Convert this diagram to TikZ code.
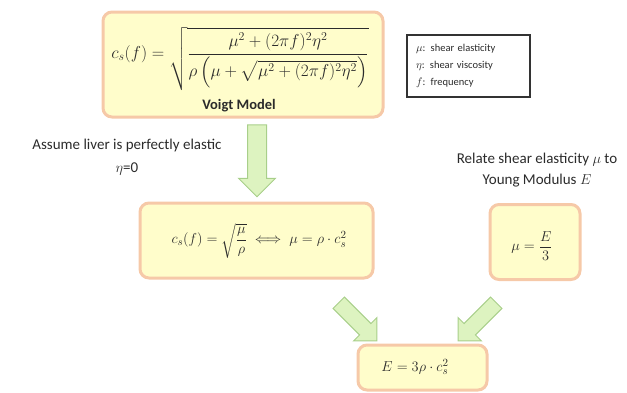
\documentclass[tikz,border=0pt]{standalone}
\usepackage{fontspec}
\setmainfont{Carlito}
\usepackage{amsmath}
\usetikzlibrary{shapes.arrows}
\definecolor{ink}{HTML}{2B2B2B}
\definecolor{peach}{HTML}{F6C9A8}
\definecolor{cream}{HTML}{FFFDCB}
\definecolor{leaf}{HTML}{DDF3C0}
\definecolor{leafline}{HTML}{A8CF8A}
\tikzset{
  font=\fontsize{11}{13}\selectfont,
  %
  eqbox/.style={draw=peach, line width=3pt, fill=cream, rounded corners=9pt,
                inner sep=0pt},
  keybox/.style={draw=black!80, line width=1.2pt, fill=white, inner xsep=9pt,
                 text width=105pt, align=left, minimum height=62pt,
                 font=\fontsize{10.5}{17}\selectfont, text=ink},
  %
  bigarrow/.style={single arrow, draw=leafline, line width=1pt, fill=leaf,
                   inner xsep=0pt, single arrow head indent=0pt},
  %
  eq/.style={font=\fontsize{15}{17}\selectfont, text=ink, inner sep=0pt},
  note/.style={font=\fontsize{15}{23}\selectfont, text=ink, align=center,
               inner sep=0pt},
}

\begin{document}
\begin{tikzpicture}[x=1pt, y=-1pt]
\useasboundingbox (0,0) rectangle (627,392);

% ------------------------------------------------------------- voigt model
\node[eqbox, minimum width=280pt, minimum height=105pt] (voigt) at (243,64.5) {};
\node[eq, font=\fontsize{16.5}{18}\selectfont] (voigteq) at (240,59)
  {$c_s(f) = \sqrt{\dfrac{\mu^2+(2\pi f)^2\eta^2}
   {\rho\left(\mu+\sqrt{\mu^2+(2\pi f)^2\eta^2}\right)}}$};
\node[note, font=\fontsize{14.5}{16}\selectfont\bfseries] (voigtlbl) at (239,106) {Voigt Model};

\node[keybox] (legend) at (468.5,66)
  {$\mu$: shear elasticity\\ $\eta$: shear viscosity\\ $f$: frequency};

% ------------------------------------------------------------ assumptions
\node[note] (elastic) at (127,157) {Assume liver is perfectly elastic\\ $\eta$=0};
\node[note, font=\fontsize{15}{21}\selectfont] (relate) at (537,170)
  {Relate shear elasticity $\mu$ to\\ Young Modulus $E$};

\node[bigarrow, rotate=-90, minimum height=72pt, inner ysep=9pt,
      single arrow head extend=9pt] (down) at (257,156) {};

% ---------------------------------------------------------------- results
\node[eqbox, minimum width=233pt, minimum height=75pt] (elasticbox) at (256.5,240.5) {};
\node[eq] (elasticeq) at (259,241)
  {$c_s(f) = \sqrt{\dfrac{\mu}{\rho}} \iff \mu = \rho\cdot c_s^2$};

\node[eqbox, minimum width=90pt, minimum height=75pt] (youngbox) at (535,242) {};
\node[eq, font=\fontsize{14}{16}\selectfont] (youngeq) at (532,246) {$\mu = \dfrac{E}{3}$};

\node[bigarrow, rotate=-45, minimum height=54pt, inner ysep=7.5pt,
      single arrow head extend=8.5pt] (leftdiag) at (355,319) {};
\node[bigarrow, rotate=-135, minimum height=54pt, inner ysep=7.5pt,
      single arrow head extend=8.5pt] (rightdiag) at (480,319) {};

\node[eqbox, minimum width=129pt, minimum height=45pt] (final) at (422.5,367.5) {};
\node[eq] (finaleq) at (415,367) {$E = 3\rho\cdot c_s^2$};

\end{tikzpicture}
\end{document}
